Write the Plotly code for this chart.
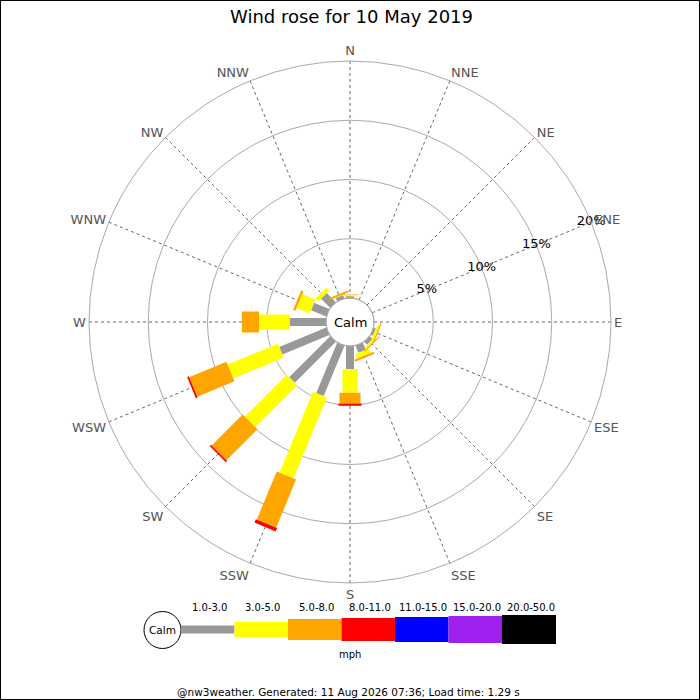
import plotly.graph_objects as go

# Wind rose data: percent of time per direction and speed band
directions = ["N", "NNE", "NE", "ENE", "E", "ESE", "SE", "SSE",
              "S", "SSW", "SW", "WSW", "W", "WNW", "NW", "NNW"]
angles = [i * 22.5 for i in range(16)]

pct_1_3 = [0.15, 0, 0, 0, 0, 0.2, 0.35, 0.65, 1.95, 4.6, 4.9, 4.3, 3.05, 1.4, 1.1, 0.3]
pct_3_5 = [0.1, 0, 0, 0, 0, 0.2, 0.2, 0.4, 2.0, 7.4, 5.0, 4.6, 2.6, 1.2, 0.35, 0.05]
pct_5_8 = [0.05, 0, 0, 0, 0, 0.1, 0.1, 0.2, 0.9, 4.4, 3.7, 3.4, 1.45, 0.2, 0, 0.15]
pct_8_11 = [0, 0, 0, 0, 0, 0, 0, 0, 0.2, 0.3, 0.15, 0.15, 0, 0, 0, 0]

bands = ["1.0-3.0", "3.0-5.0", "5.0-8.0", "8.0-11.0", "11.0-15.0", "15.0-20.0", "20.0-50.0"]
band_colors = ["#999999", "#ffff00", "#ffa500", "#ff0000", "#0000ff", "#a020f0", "#000000"]
band_widths = [8, 15, 21, 23, 25, 27, 29]

radial_ticks = [5, 10, 15, 20]
radial_labels = ["5%", "10%", "15%", "20%"]

series = [pct_1_3, pct_3_5, pct_5_8, pct_8_11]

fig = go.Figure()

# stacked segments drawn as thick lines so each band keeps a constant pixel width
base = [0.0] * 16
for k, vals in enumerate(series):
    r, th = [], []
    for i in range(16):
        if vals[i] > 0:
            r += [base[i], base[i] + vals[i], None]
            th += [angles[i], angles[i], None]
        base[i] += vals[i]
    fig.add_trace(go.Scatterpolar(
        r=r, theta=th, mode="lines", connectgaps=False,
        line=dict(color=band_colors[k], width=band_widths[k]),
        hoverinfo="skip", showlegend=False,
    ))

# percentage labels sit on the ENE spoke
fig.add_trace(go.Scatterpolar(
    r=radial_ticks, theta=[67.5] * len(radial_ticks), mode="text",
    text=radial_labels, textposition="middle center",
    textfont=dict(size=13, color="black", family="DejaVu Sans"),
    hoverinfo="skip", showlegend=False,
))

fig.update_layout(
    width=700, height=700,
    margin=dict(l=0, r=0, t=0, b=0),
    paper_bgcolor="white",
    font=dict(family="DejaVu Sans", color="black"),
    polar=dict(
        domain=dict(x=[89 / 700, 611 / 700], y=[117 / 700, 639 / 700]),
        hole=24 / 261,
        bgcolor="white",
        radialaxis=dict(
            range=[0, 20], tickvals=radial_ticks, showticklabels=False,
            angle=22.5, showline=False, ticks="",
            gridcolor="#aaaaaa", gridwidth=1,
        ),
        angularaxis=dict(
            rotation=90, direction="clockwise",
            tickmode="array", tickvals=angles, ticktext=directions,
            showline=True, linecolor="#aaaaaa", linewidth=1,
            gridcolor="#666666", griddash="dot", gridwidth=1,
            ticks="", tickfont=dict(size=13, color="#555555"),
        ),
    ),
)


def px(x):
    return x / 700


def py(y):
    return 1 - y / 700


def label(text, x, y, size):
    fig.add_annotation(text=text, x=px(x), y=py(y), xref="paper", yref="paper",
                       xanchor="center", yanchor="middle", showarrow=False,
                       font=dict(size=size, color="black"))


# calm circle outline, title and centre label
fig.add_shape(type="circle", xref="paper", yref="paper",
              x0=px(326), x1=px(374), y0=py(346), y1=py(298),
              line=dict(color="#aaaaaa", width=1))
label("Wind rose for 10 May 2019", 351, 17, 18)
label("Calm", 350, 322, 13)

# speed legend at the bottom
fig.add_shape(type="circle", xref="paper", yref="paper",
              x0=px(144), x1=px(181), y0=py(611.5), y1=py(648.5),
              line=dict(color="black", width=1), fillcolor="white")
label("Calm", 162.5, 630, 10.5)

seg_x = [181, 234.5, 288, 341.5, 395, 448.5, 502, 556]
for k, lab in enumerate(bands):
    h = band_widths[k] / 2
    fig.add_shape(type="rect", xref="paper", yref="paper",
                  x0=px(seg_x[k]), x1=px(seg_x[k + 1]),
                  y0=py(629.5 + h), y1=py(629.5 - h),
                  line=dict(width=0), fillcolor=band_colors[k])
    label(lab, (seg_x[k] + seg_x[k + 1]) / 2 + 1.5, 607, 10)

label("mph", 350, 654, 10)
label("@nw3weather. Generated: 11 Aug 2026 07:36; Load time: 1.29 s", 348, 692, 10.5)

# image frame
fig.add_shape(type="rect", xref="paper", yref="paper", x0=0, x1=1, y0=0, y1=1,
              line=dict(color="black", width=2))

fig.write_html("out.html", config={"displayModeBar": False},
               post_script="document.body.style.margin='0';")
